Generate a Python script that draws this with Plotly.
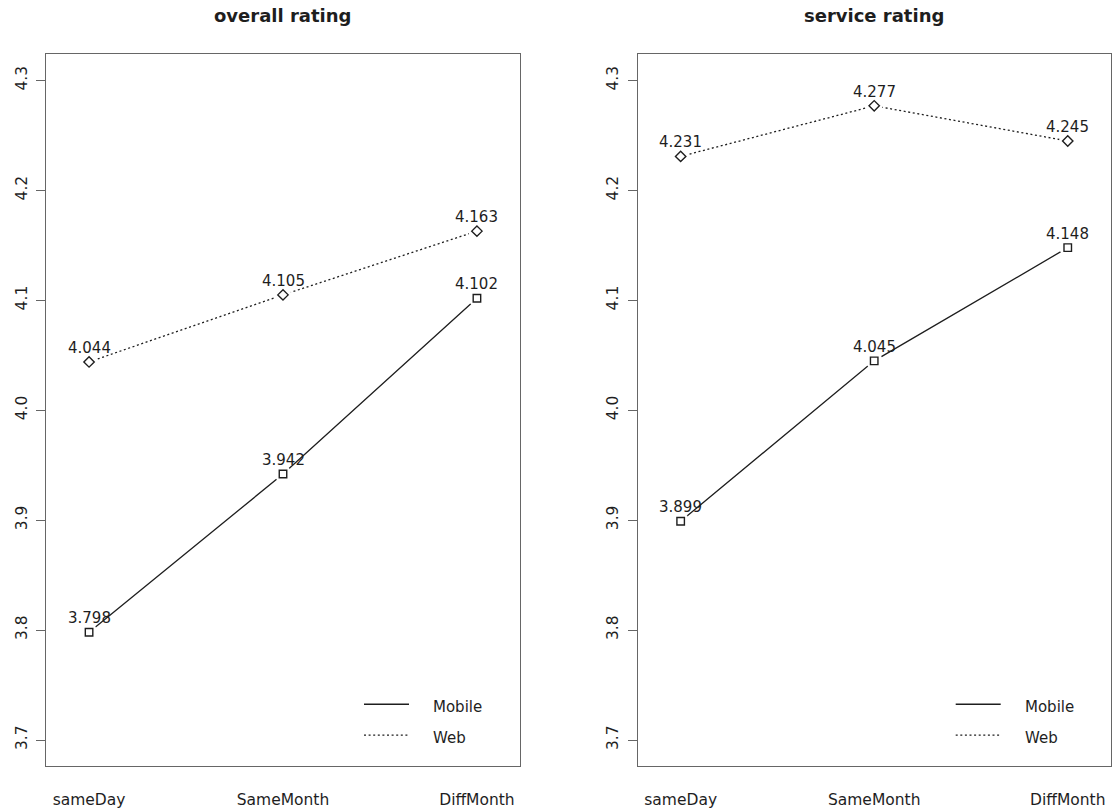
import plotly.graph_objects as go
from plotly.subplots import make_subplots

# Rating means by order timing, for each channel
categories = ["sameDay", "SameMonth", "DiffMonth"]
panel_titles = ["overall rating", "service rating"]
overall_mobile = [3.798, 3.942, 4.102]
overall_web = [4.044, 4.105, 4.163]
service_mobile = [3.899, 4.045, 4.148]
service_web = [4.231, 4.277, 4.245]
series_names = ["Mobile", "Web"]
y_ticks = [3.7, 3.8, 3.9, 4.0, 4.1, 4.2, 4.3]

FONT = "DejaVu Sans"
INK = "#1e1e1e"
FRAME = "#666666"

W, H = 1112, 809
x_pos = [1, 2, 3]
x_range = [0.778, 3.222]
y_range = [3.676, 4.324]

fig = make_subplots(rows=1, cols=2)
panel_dom = [[46 / W, 520 / W], [637.7 / W, 1110.7 / W]]
y_dom = [1 - 768.3 / H, 1 - 54.3 / H]

panels = [
    (overall_mobile, overall_web),
    (service_mobile, service_web),
]

for i, (mob, web) in enumerate(panels):
    col = i + 1
    for vals, dash, sym, msize in [
        (mob, "solid", "square-open", 7.5),
        (web, "2px,2.6px", "diamond-open", 8),
    ]:
        # connecting line
        fig.add_trace(go.Scatter(
            x=x_pos, y=vals, mode="lines",
            line=dict(color=INK, width=1.3, dash=dash),
            showlegend=False, hoverinfo="skip"), row=1, col=col)
        # white halo so the line stops short of each point
        fig.add_trace(go.Scatter(
            x=x_pos, y=vals, mode="markers",
            marker=dict(symbol="circle", size=17, color="white",
                        line=dict(width=0)),
            showlegend=False, hoverinfo="skip"), row=1, col=col)
        # point symbols
        fig.add_trace(go.Scatter(
            x=x_pos, y=vals, mode="markers",
            marker=dict(symbol=sym, size=msize, color=INK,
                        line=dict(width=1.4, color=INK)),
            showlegend=False), row=1, col=col)
        # value labels above the points
        for xv, yv in zip(x_pos, vals):
            fig.add_annotation(
                x=xv, y=yv, xref=f"x{'' if col == 1 else col}",
                yref=f"y{'' if col == 1 else col}",
                text=f"{yv:.3f}", showarrow=False, yshift=14,
                font=dict(family=FONT, size=15, color=INK))

    # panel title
    dom = panel_dom[i]
    fig.add_annotation(
        x=(dom[0] + dom[1]) / 2, y=1 - 16 / H, xref="paper", yref="paper",
        text=f"<b>{panel_titles[i]}</b>", showarrow=False,
        font=dict(family=FONT, size=18, color=INK),
        xanchor="center", yanchor="middle")

    # legend key in the lower-right corner
    for j, (name, dash) in enumerate(zip(series_names, ["solid", "dot"])):
        yy = 1 - (706 + 31 * j) / H
        x0 = dom[0] + (364 - 46) / W
        x1 = dom[0] + (409 - 46) / W
        fig.add_shape(type="line", xref="paper", yref="paper",
                      x0=x0, x1=x1, y0=yy, y1=yy,
                      line=dict(color=INK, width=1.3,
                                dash="solid" if dash == "solid" else "2px,2.6px"))
        fig.add_annotation(
            x=dom[0] + (431 - 46) / W, y=yy, xref="paper", yref="paper",
            text=name, showarrow=False, xanchor="left", yanchor="middle",
            yshift=-3,
            font=dict(family=FONT, size=15, color=INK))

axis_common = dict(showgrid=False, zeroline=False, showline=True,
                   linecolor=FRAME, linewidth=1.2, mirror=True)

for i in range(2):
    col = i + 1
    fig.update_xaxes(
        domain=panel_dom[i], range=x_range, tickvals=x_pos,
        ticktext=categories, ticks="", ticklabelstandoff=19,
        tickfont=dict(family=FONT, size=15.5, color=INK),
        **axis_common, row=1, col=col)
    fig.update_yaxes(
        domain=y_dom, range=y_range, tickvals=y_ticks,
        ticktext=[f"{v:.1f}" for v in y_ticks],
        ticks="outside", ticklen=9, tickcolor=FRAME, tickwidth=1.2,
        tickangle=-90, ticklabelstandoff=3,
        tickfont=dict(family=FONT, size=15.5, color=INK),
        **axis_common, row=1, col=col)

fig.update_layout(
    width=W, height=H,
    margin=dict(l=0, r=0, t=0, b=0),
    paper_bgcolor="white", plot_bgcolor="white",
    showlegend=False,
)

fig.write_html("out.html")
